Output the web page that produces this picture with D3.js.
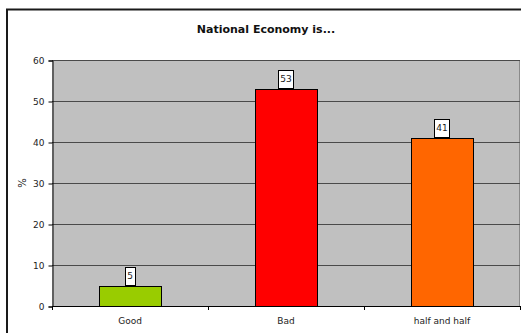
<!DOCTYPE html>
<html>
<head>
<meta charset="utf-8">
<script src="https://cdn.jsdelivr.net/npm/d3@7"></script>
<style>
  html, body { margin: 0; padding: 0; background: #fff; overflow: hidden; }
  svg { display: block; }
</style>
</head>
<body>
<div id="chart"></div>
<script>
(function () {
    'use strict';

    var categories = ['Good', 'Bad', 'half and half'];
    var values = [5, 53, 41];
    var barColors = ['#99cc00', '#ff0000', '#ff6600'];
    var yTicks = [0, 10, 20, 30, 40, 50, 60];

    var width = 521;
    var height = 333;
    var plot = { left: 52, top: 60, right: 520, bottom: 306 };
    var font = '"DejaVu Sans", Tahoma, sans-serif';

    var svg = d3.select('#chart').append('svg')
        .attr('width', width)
        .attr('height', height);

    // outer chart frame (runs off the right and bottom of the picture)
    svg.append('rect')
        .attr('x', 7)
        .attr('y', 9.5)
        .attr('width', 530)
        .attr('height', 340)
        .style('fill', '#fff')
        .style('stroke', '#1a1a1a')
        .style('stroke-width', 2);

    var x = d3.scaleBand()
        .domain(categories)
        .range([plot.left, plot.right])
        .paddingInner(0.6)
        .paddingOuter(0.3);

    var y = d3.scaleLinear()
        .domain([0, 60])
        .range([plot.bottom, plot.top]);

    svg.append('rect')
        .attr('x', plot.left)
        .attr('y', plot.top)
        .attr('width', plot.right - plot.left)
        .attr('height', plot.bottom - plot.top)
        .style('fill', '#c0c0c0');

    svg.append('line')
        .attr('x1', plot.right - 0.5)
        .attr('x2', plot.right - 0.5)
        .attr('y1', plot.top)
        .attr('y2', plot.bottom)
        .style('stroke', '#8a8a8a');

    svg.selectAll('line.grid')
        .data(yTicks.filter(function (d) { return d > 0; }))
        .enter().append('line')
        .attr('class', 'grid')
        .attr('x1', plot.left)
        .attr('x2', plot.right)
        .attr('y1', function (d) { return Math.round(y(d)) + 0.5; })
        .attr('y2', function (d) { return Math.round(y(d)) + 0.5; })
        .style('stroke', '#4a4a4a')
        .style('stroke-width', 1);

    var yAxis = svg.append('g')
        .attr('transform', 'translate(' + (plot.left + 0.5) + ',0.5)')
        .call(d3.axisLeft(y).tickValues(yTicks).tickSize(4).tickPadding(4));
    yAxis.selectAll('text')
        .style('font-family', font)
        .style('font-size', '9px')
        .style('fill', '#222');
    yAxis.selectAll('line, path').style('stroke', '#000');

    var xAxis = svg.append('g')
        .attr('transform', 'translate(0,' + (plot.bottom + 0.5) + ')')
        .call(d3.axisBottom(x).tickSize(0).tickPadding(11));
    xAxis.select('path').remove();
    xAxis.selectAll('text')
        .style('font-family', font)
        .style('font-size', '9px')
        .style('fill', '#222');

    // category separator ticks
    var sep = d3.range(categories.length + 1).map(function (i) {
        return plot.left + i * (plot.right - plot.left) / categories.length;
    });
    svg.append('line')
        .attr('x1', plot.left)
        .attr('x2', plot.right)
        .attr('y1', plot.bottom + 0.5)
        .attr('y2', plot.bottom + 0.5)
        .style('stroke', '#000');
    svg.selectAll('line.xtick')
        .data(sep)
        .enter().append('line')
        .attr('class', 'xtick')
        .attr('x1', function (d) { return Math.round(d) + 0.5; })
        .attr('x2', function (d) { return Math.round(d) + 0.5; })
        .attr('y1', plot.bottom)
        .attr('y2', plot.bottom + 4)
        .style('stroke', '#000');

    svg.selectAll('rect.bar')
        .data(values)
        .enter().append('rect')
        .attr('class', 'bar')
        .attr('x', function (d, i) { return Math.round(x(categories[i])) + 0.5; })
        .attr('y', function (d) { return Math.round(y(d)) + 0.5; })
        .attr('width', Math.round(x.bandwidth()))
        .attr('height', function (d) { return Math.round(y(0)) - Math.round(y(d)); })
        .style('fill', function (d, i) { return barColors[i]; })
        .style('stroke', '#000')
        .style('stroke-width', 1);

    // value labels in small boxes
    var labels = svg.selectAll('g.vlabel')
        .data(values)
        .enter().append('g')
        .attr('class', 'vlabel');
    labels.each(function (d, i) {
        var g = d3.select(this);
        var cx = x(categories[i]) + x.bandwidth() / 2;
        var bottom = Math.round(y(d)) - 1;
        var t = g.append('text')
            .attr('x', cx)
            .attr('y', bottom - 6)
            .attr('text-anchor', 'middle')
            .style('font-family', font)
            .style('font-size', '9px')
            .style('fill', '#222')
            .text(d);
        var w = t.node().getComputedTextLength() + 4;
        g.insert('rect', 'text')
            .attr('x', Math.round(cx - w / 2) + 0.5)
            .attr('y', bottom - 18 + 0.5)
            .attr('width', Math.round(w))
            .attr('height', 18)
            .style('fill', '#fff')
            .style('stroke', '#000');
    });

    svg.append('text')
        .attr('x', 266)
        .attr('y', 33)
        .attr('text-anchor', 'middle')
        .style('font-family', font)
        .style('font-size', '11px')
        .style('font-weight', 'bold')
        .style('fill', '#111')
        .text('National Economy is...');

    svg.append('text')
        .attr('transform', 'translate(26,' + ((plot.top + plot.bottom) / 2) + ') rotate(-90)')
        .attr('text-anchor', 'middle')
        .style('font-family', font)
        .style('font-size', '10px')
        .style('fill', '#111')
        .text('%');
})();
</script>
</body>
</html>
